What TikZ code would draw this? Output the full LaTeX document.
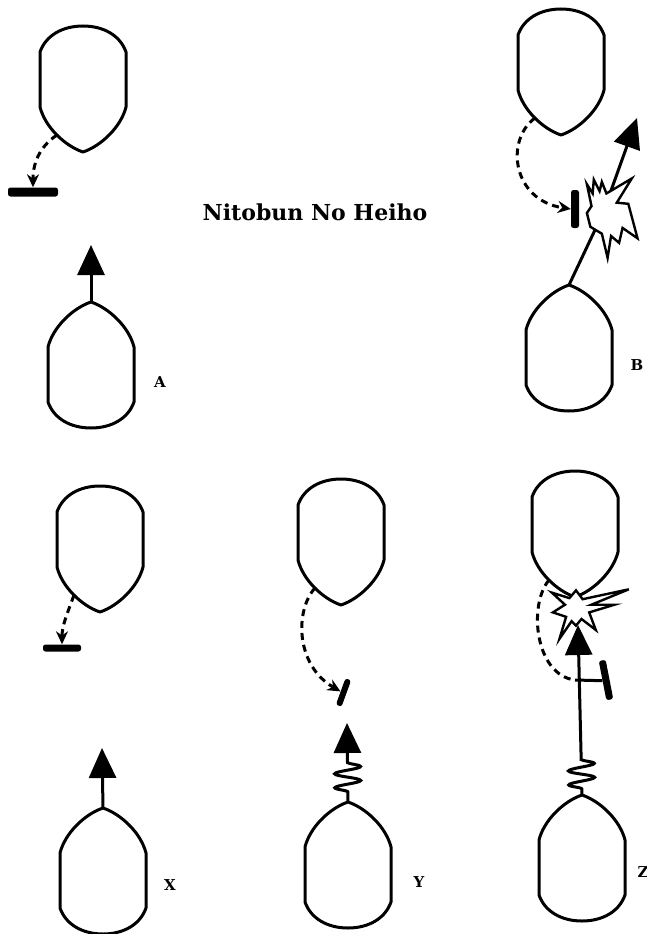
\documentclass[tikz,border=0pt]{standalone}
\usepackage{fontspec}
\setmainfont{DejaVu Serif}
\usetikzlibrary{arrows.meta,decorations.pathmorphing}

\begin{document}
\begin{tikzpicture}[x=1pt, y=-1pt,
  outline/.style={line width=3pt, line join=round},
  unit/.pic={
    \draw[outline, fill=white] (0,-63) .. controls (18,-57) and (38,-38) .. (43,-18)
      -- (43,37) .. controls (37,54) and (20,63) .. (0,63)
      .. controls (-20,63) and (-37,54) .. (-43,37)
      -- (-43,-18) .. controls (-38,-38) and (-18,-57) .. (0,-63) -- cycle;
    \coordinate (-tip) at (0,-63);
    \coordinate (-flank) at (26,-46);
  },
  thrust/.style={line width=3pt, -{Triangle[length=30pt, width=27pt]}},
  coil/.style={thrust, decorate, decoration={snake, amplitude=13pt,
               segment length=14pt, pre length=#1}},
  feint/.style={line width=3pt, dash pattern=on 7pt off 5pt,
                -{Stealth[length=13pt, width=12pt]}},
  blockbar/.style={fill=black, draw=none, rounded corners=2.5pt, inner sep=0pt},
  burst/.style={line width=2.4pt, fill=white, line join=miter},
  lbl/.style={font=\bfseries\fontsize{15}{17}\selectfont, inner sep=0pt},
  title/.style={font=\bfseries\fontsize{22}{26}\selectfont}]
\fill[white] (0,0) rectangle (647,934);
\useasboundingbox (0,0) rectangle (647,934);

\node[title] (head) at (315,212) {Nitobun No Heiho};

% A
\pic[rotate=180] (defA) at (83,89) {unit};
\pic (atkA) at (91,365) {unit};
\coordinate (A-aim) at (91,245);
\node[blockbar, minimum width=50pt, minimum height=9pt] (A-block) at (33,192) {};
\draw[feint] (defA-flank) .. controls (42,145) and (33,160) .. (A-block.north);
\draw[thrust] (atkA-tip) -- (A-aim);
\node[lbl] (labA) at (160,382) {A};

% B
\pic[rotate=180] (defB) at (561,72) {unit};
\pic (atkB) at (569,348) {unit};
\coordinate (B-boom) at (603,213);
\coordinate (B-aim) at (637,118);
\node[blockbar, minimum width=8pt, minimum height=38pt] (B-block) at (575,209) {};
\draw[feint] (defB-flank) .. controls (505,140) and (512,200) .. (B-block.west);
\draw[line width=3pt] (atkB-tip) -- (B-boom);
\draw[thrust] (B-boom) -- (B-aim);
\draw[burst, shift={(B-boom)}, scale=1.15] (-14,-25) -- (-9,-17) -- (-8,-29) -- (-3,-19) -- (-1,-27)
  -- (3,-17) -- (25,-30) -- (12,-9) -- (22,-8) -- (30,22) -- (17,13) -- (14,26)
  -- (7,20) -- (4,39) -- (-1,18) -- (-11,12) -- (-14,0) -- (-10,-6) -- cycle;
\node[lbl] (labB) at (637,365) {B};

% X
\pic[rotate=180] (defX) at (100,549) {unit};
\pic (atkX) at (103,871) {unit};
\coordinate (X-aim) at (102,748);
\node[blockbar, minimum width=38pt, minimum height=7pt] (X-block) at (62,648) {};
\draw[feint] (defX-flank) .. controls (68,612) and (62,625) .. (X-block.north);
\draw[thrust] (atkX-tip) -- (X-aim);
\node[lbl] (labX) at (170,885) {X};

% Y
\pic[rotate=180] (defY) at (341,542) {unit};
\pic (atkY) at (348,865) {unit};
\coordinate (Y-aim) at (347,723);
\node[blockbar, minimum width=6pt, minimum height=28pt, rotate=-20] (Y-block) at (343.5,692.5) {};
\draw[feint] (defY-flank) .. controls (295,610) and (295,665) .. (Y-block.west);
\draw[coil=10pt, decoration={post length=39pt}] (atkY-tip) -- (Y-aim);
\node[lbl] (labY) at (419,882) {Y};

% Z
\pic[rotate=180] (defZ) at (575,534) {unit};
\pic (atkZ) at (582,858) {unit};
\coordinate (Z-boom) at (576,608);
\coordinate (Z-aim) at (578,625);
\coordinate (Z-join) at (575,680);
\node[blockbar, minimum width=7pt, minimum height=40pt, rotate=11] (Z-block) at (606,680) {};
\draw[feint, -] (defZ-flank) .. controls (528,605) and (535,675) .. (Z-join);
\draw[line width=3pt] (Z-join) -- (Z-block.west);
\draw[burst, shift={(Z-boom)}, scale=1.1] (-22,-14) -- (-6,-9) -- (0,-16) -- (6,-8) -- (48,-17)
  -- (14,-3) -- (35,-3) -- (12,4) -- (18,20) -- (5,10) -- (0,16) -- (-4,12)
  -- (-15,28) -- (-9,8) -- (-21,4) -- (-10,-3) -- cycle;
\draw[coil=6pt, decoration={post length=134pt}] (atkZ-tip) -- (Z-aim);
\node[lbl] (labZ) at (643,872) {Z};
\end{tikzpicture}
\end{document}
